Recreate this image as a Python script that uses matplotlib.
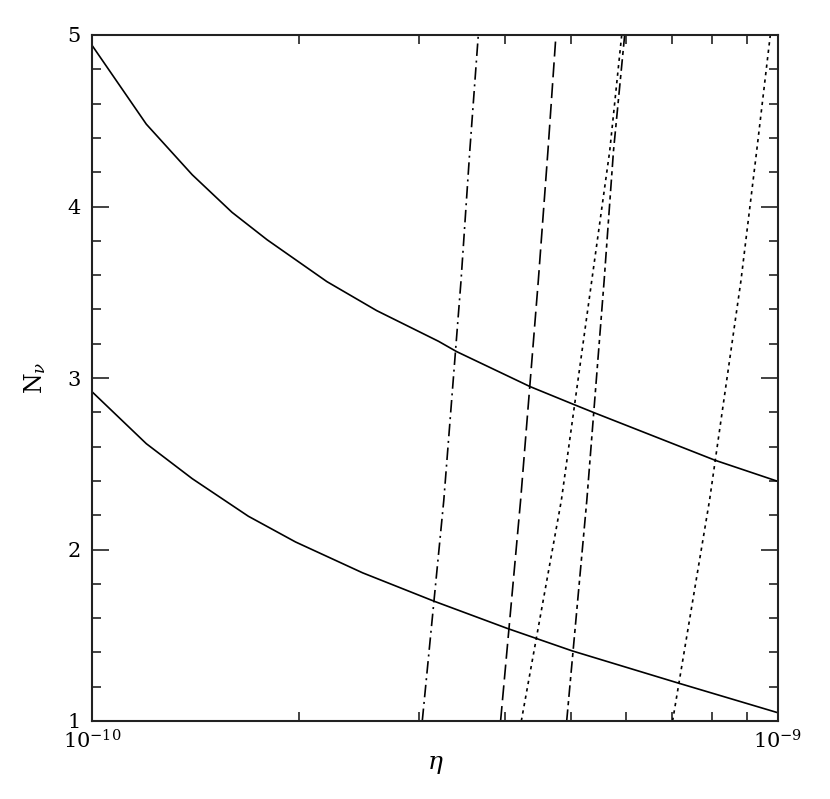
import matplotlib
matplotlib.use("Agg")
import matplotlib.pyplot as plt
from matplotlib.ticker import FixedLocator, NullFormatter

plt.rcParams["font.family"] = "DejaVu Serif"
plt.rcParams["mathtext.fontset"] = "dejavuserif"

# solid curves: eta (units of 1e-10) and N_nu
eta_upper = [1.0, 1.2, 1.4, 1.6, 1.8, 2.2, 2.6, 3.2, 3.4, 4.35, 5.05, 5.4, 8.1, 10.0]
n_upper = [4.94, 4.48, 4.185, 3.966, 3.806, 3.562, 3.393, 3.214, 3.154, 2.95, 2.844, 2.797, 2.52, 2.397]

eta_lower = [1.0, 1.2, 1.4, 1.69, 1.98, 2.48, 3.15, 4.03, 4.46, 5.01, 7.13, 10.0]
n_lower = [2.92, 2.617, 2.413, 2.194, 2.044, 1.864, 1.699, 1.54, 1.479, 1.409, 1.223, 1.048]

# steep constraint lines, sampled at these N_nu values
n_steep = [1.0, 2.287, 3.568, 4.325, 5.0]
eta_dashdot = [3.03, 3.257, 3.451, 3.554, 3.657]
eta_longdash = [3.941, 4.215, 4.473, 4.62, 4.746]
eta_dot1 = [4.225, 4.833, 5.352, 5.685, 5.918]
eta_dash2 = [4.92, 5.264, 5.579, 5.757, 5.977]
eta_dot2 = [7.02, 7.947, 8.831, 9.31, 9.745]

y_ticks = [1, 2, 3, 4, 5]
y_minor = [1.2, 1.4, 1.6, 1.8, 2.2, 2.4, 2.6, 2.8, 3.2, 3.4, 3.6, 3.8,
           4.2, 4.4, 4.6, 4.8]
x_labels = [r"$10^{-10}$", r"$10^{-9}$"]

scale = 1e-10

fig = plt.figure(figsize=(8.30, 7.99), dpi=100)
ax = fig.add_axes([92 / 830, 78 / 799, 686 / 830, 686 / 799])

lw = 1.2
ax.plot([e * scale for e in eta_upper], n_upper, color="black", lw=lw)
ax.plot([e * scale for e in eta_lower], n_lower, color="black", lw=lw)

ax.plot([e * scale for e in eta_dashdot], n_steep, color="black", lw=lw,
        dashes=[7.5, 2.8, 1.2, 2.8])
ax.plot([e * scale for e in eta_longdash], n_steep, color="black", lw=lw,
        dashes=[9.0, 3.5])
ax.plot([e * scale for e in eta_dot1], n_steep, color="black", lw=lw,
        dashes=[2.0, 2.5])
ax.plot([e * scale for e in eta_dash2], n_steep, color="black", lw=lw,
        dashes=[7.0, 2.5, 2.5, 2.5])
ax.plot([e * scale for e in eta_dot2], n_steep, color="black", lw=lw,
        dashes=[2.0, 2.5])

ax.set_xscale("log")
ax.set_xlim(1e-10, 1e-9)
ax.set_ylim(1, 5)

ax.xaxis.set_major_locator(FixedLocator([1e-10, 1e-9]))
ax.xaxis.set_minor_locator(FixedLocator([k * 1e-10 for k in range(2, 10)]))
ax.xaxis.set_minor_formatter(NullFormatter())
ax.set_xticklabels(x_labels)
ax.yaxis.set_major_locator(FixedLocator(y_ticks))
ax.yaxis.set_minor_locator(FixedLocator(y_minor))
ax.set_yticklabels([str(t) for t in y_ticks])

ax.tick_params(which="both", direction="in", top=True, right=True,
               labelsize=15, width=1.2, color="#222222")
ax.tick_params(which="major", length=12)
ax.tick_params(which="minor", length=6.5)
ax.tick_params(axis="x", which="major", pad=6)
ax.tick_params(axis="y", which="major", pad=8)

for s in ax.spines.values():
    s.set_linewidth(1.5)
    s.set_color("#222222")

ax.set_xlabel(r"$\eta$", fontsize=18, labelpad=0)
ax.set_ylabel(r"N$_\nu$", fontsize=17, labelpad=14)

fig.savefig("out.png", dpi=100)
